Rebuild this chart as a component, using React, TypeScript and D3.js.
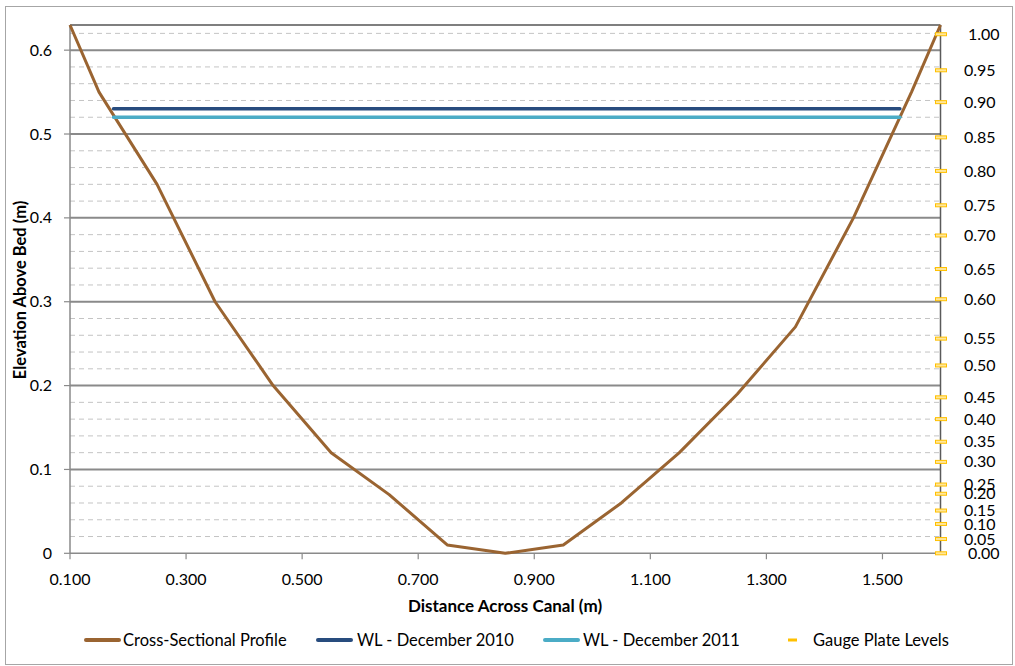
import React from "react";
import * as d3 from "d3";

const profileX = [0.10, 0.15, 0.25, 0.35, 0.45, 0.55, 0.65, 0.75, 0.85, 0.95, 1.05, 1.15, 1.25, 1.35, 1.45, 1.55, 1.60];
const profileY = [0.63, 0.55, 0.44, 0.30, 0.20, 0.12, 0.07, 0.01, 0.00, 0.01, 0.06, 0.12, 0.19, 0.27, 0.40, 0.55, 0.63];

const wlX = [0.175, 1.53];
const wl2010 = [0.53, 0.53];
const wl2011 = [0.52, 0.52];

const gaugeLabels = ["0.00", "0.05", "0.10", "0.15", "0.20", "0.25", "0.30", "0.35", "0.40", "0.45", "0.50", "0.55", "0.60", "0.65", "0.70", "0.75", "0.80", "0.85", "0.90", "0.95", "1.00"];
const gaugeElev = [0.0, 0.017, 0.035, 0.051, 0.071, 0.082, 0.109, 0.133, 0.160, 0.186, 0.224, 0.256, 0.303, 0.339, 0.379, 0.415, 0.456, 0.496, 0.538, 0.576, 0.619];

const xTicks = [0.1, 0.3, 0.5, 0.7, 0.9, 1.1, 1.3, 1.5];
const yTicks = [0, 0.1, 0.2, 0.3, 0.4, 0.5, 0.6];
const yMinor = d3.range(0.02, 0.63, 0.02).filter((v) => Math.abs(v * 10 - Math.round(v * 10)) > 0.01);

const legendItems = ["Cross-Sectional Profile", "WL - December 2010", "WL - December 2011", "Gauge Plate Levels"];

const FONT = "Lato, 'Open Sans', sans-serif";
const C_PROFILE = "#9A6431";
const C_2010 = "#284C7E";
const C_2011 = "#4BACC6";
const C_GAUGE = "#FFC000";

export default function App() {
  const left = 70, right = 940.5, top = 25, bottom = 553.3;
  const x = d3.scaleLinear().domain([0.1, 1.6]).range([left, right]);
  const y = d3.scaleLinear().domain([0, 0.63]).range([bottom, top]);

  const line = d3.line<[number, number]>().x((d) => x(d[0])).y((d) => y(d[1]));
  const profile = line(profileX.map((v, i) => [v, profileY[i]] as [number, number]));
  const l2010 = line(wlX.map((v, i) => [v, wl2010[i]] as [number, number]));
  const l2011 = line(wlX.map((v, i) => [v, wl2011[i]] as [number, number]));

  const legendX = [86, 318, 545, 788];
  const legendTextX = [123, 357, 583, 813];
  const legendColors = [C_PROFILE, C_2010, C_2011, C_GAUGE];
  const ly = 640;

  return (
    <svg width={1015} height={666} style={{ position: "absolute", left: 0, top: 0, background: "#fff" }} fontFamily={FONT}>
      <rect x={5.5} y={6.5} width={1007} height={658} fill="#fff" stroke="#a6a6a6" strokeWidth={1} />

      {yMinor.map((v, i) => (
        <line key={"m" + i} x1={left} x2={right} y1={y(v)} y2={y(v)} stroke="#c4c4c4" strokeWidth={1} strokeDasharray="5,4" />
      ))}
      {yTicks.slice(1).map((v, i) => (
        <line key={"g" + i} x1={left} x2={right} y1={y(v)} y2={y(v)} stroke="#8a8a8a" strokeWidth={2} />
      ))}
      <line x1={left} x2={right} y1={top} y2={top} stroke="#000" strokeWidth={1.2} />

      {/* axes */}
      <line x1={left} x2={left} y1={top} y2={bottom} stroke="#8a8a8a" strokeWidth={1.5} />
      <line x1={left} x2={right} y1={bottom} y2={bottom} stroke="#8a8a8a" strokeWidth={1.5} />
      <line x1={right} x2={right} y1={top} y2={bottom} stroke="#5a5a5a" strokeWidth={1.5} />

      {yTicks.map((v, i) => (
        <g key={"yt" + i}>
          <line x1={left - 6} x2={left} y1={y(v)} y2={y(v)} stroke="#8a8a8a" strokeWidth={1.2} />
          <text x={52} y={y(v)} dy="0.35em" textAnchor="end" fontSize={16} fill="#000">{d3.format("")(v)}</text>
        </g>
      ))}
      {xTicks.map((v, i) => (
        <g key={"xt" + i}>
          <line x1={x(v)} x2={x(v)} y1={bottom} y2={bottom + 6} stroke="#8a8a8a" strokeWidth={1.2} />
          <text x={x(v)} y={579} dy="0.35em" textAnchor="middle" fontSize={16} fill="#000">{d3.format(".3f")(v)}</text>
        </g>
      ))}

      {/* series */}
      <path d={profile || ""} fill="none" stroke={C_PROFILE} strokeWidth={3} strokeLinejoin="round" />
      <path d={l2010 || ""} fill="none" stroke={C_2010} strokeWidth={3.5} strokeLinecap="round" />
      <path d={l2011 || ""} fill="none" stroke={C_2011} strokeWidth={3.5} strokeLinecap="round" />

      {gaugeElev.map((v, i) => (
        <g key={"gp" + i}>
          <rect x={right - 5} y={y(v) - 1.5} width={11} height={3} fill="#FFE699" stroke={C_GAUGE} strokeWidth={1} />
          <text x={i === 0 || i === gaugeElev.length - 1 ? 968 : 964} y={y(v)} dy="0.35em" fontSize={16} fill="#000">{gaugeLabels[i]}</text>
        </g>
      ))}

      {/* axis titles */}
      <text x={505} y={606} dy="0.35em" textAnchor="middle" fontSize={17} fontWeight="bold" fill="#000">Distance Across Canal (m)</text>
      <text transform={`translate(20,${290}) rotate(-90)`} dy="0.35em" textAnchor="middle" fontSize={16.5} fontWeight="bold" fill="#000">Elevation Above Bed (m)</text>

      {/* legend */}
      {legendItems.map((t, i) => (
        <g key={"lg" + i}>
          {i < 3 ? (
            <line x1={legendX[i]} x2={legendX[i] + 33} y1={ly} y2={ly} stroke={legendColors[i]} strokeWidth={4} strokeLinecap="round" />
          ) : (
            <rect x={legendX[i]} y={ly - 1.5} width={9} height={3} fill={C_GAUGE} />
          )}
          <text x={legendTextX[i]} y={ly} dy="0.35em" fontSize={16.5} fill="#000">{t}</text>
        </g>
      ))}
    </svg>
  );
}
